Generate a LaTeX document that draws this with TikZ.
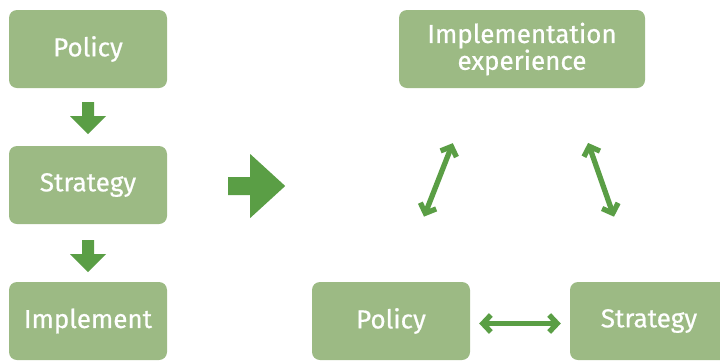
\documentclass[tikz,border=0pt]{standalone}
\usepackage{fontspec}
\setmainfont[FakeBold=0.6]{Fira Sans}
\usepackage{tikz}
\usetikzlibrary{arrows.meta}
\definecolor{boxgreen}{HTML}{9CBA84}
\definecolor{arrgreen}{HTML}{5A9E45}
\tikzstyle{bx}=[shape=rectangle,rounded corners=8pt,fill=boxgreen,text=white,
  minimum width=158pt,minimum height=78pt,inner sep=0pt,align=center,
  font=\fontsize{26}{25}\selectfont]
\tikzstyle{dbl}=[{Straight Barb[length=8pt,width=17pt]}-{Straight Barb[length=8pt,width=17pt]},
  draw=arrgreen,line width=5.3pt]
\tikzstyle{blk}=[fill=arrgreen]

\begin{document}
\begin{tikzpicture}[x=1pt,y=-1pt]
            \useasboundingbox (0,0) rectangle (720,360);
            % first column
            \node[bx] (pol) at (88,49) {Policy}
            ;
            \node[bx] (str) at (88,185) {Strategy}
            ;
            \node[bx] (imp) at (88,321) {Implement}
            ;
            \fill[blk] ([shift={(-6,14)}]pol.south) -- ++(12,0) -- ++(0,14) -- ++(12,0)
                -- ++(-18,18) -- ++(-18,-18) -- ++(12,0) -- cycle;
            \fill[blk] ([shift={(-6,16)}]str.south) -- ++(12,0) -- ++(0,14) -- ++(12,0)
                -- ++(-18,18) -- ++(-18,-18) -- ++(12,0) -- cycle;
            % big arrow
            \fill[blk] ([shift={(61,-8)}]str.east) -- ++(22,0) -- ++(0,-23) -- ++(35,32)
                -- ++(-35,32) -- ++(0,-23) -- ++(-22,0) -- cycle;
            % second column
            \node[bx,minimum width=246pt] (exp) at (522,49) {Implementation\\experience}
            ;
            \node[bx] (rpol) at (391,321) {Policy}
            ;
            \node[bx] (rstr) at (649,321) {Strategy}
            ;
            \draw[dbl,shorten <=59pt,shorten >=70pt] ([xshift=75.5pt]exp.south west) -- ([xshift=7.5pt]rpol.north);
            \draw[dbl,shorten <=58pt,shorten >=69pt] ([xshift=-76.3pt]exp.south east) -- ([xshift=-12.2pt]rstr.north);
            \draw[dbl,shorten <=9pt,shorten >=9pt] ([yshift=-2.5pt]rpol.east) -- ([yshift=-2.5pt]rstr.west);
        \end{tikzpicture}
\end{document}
